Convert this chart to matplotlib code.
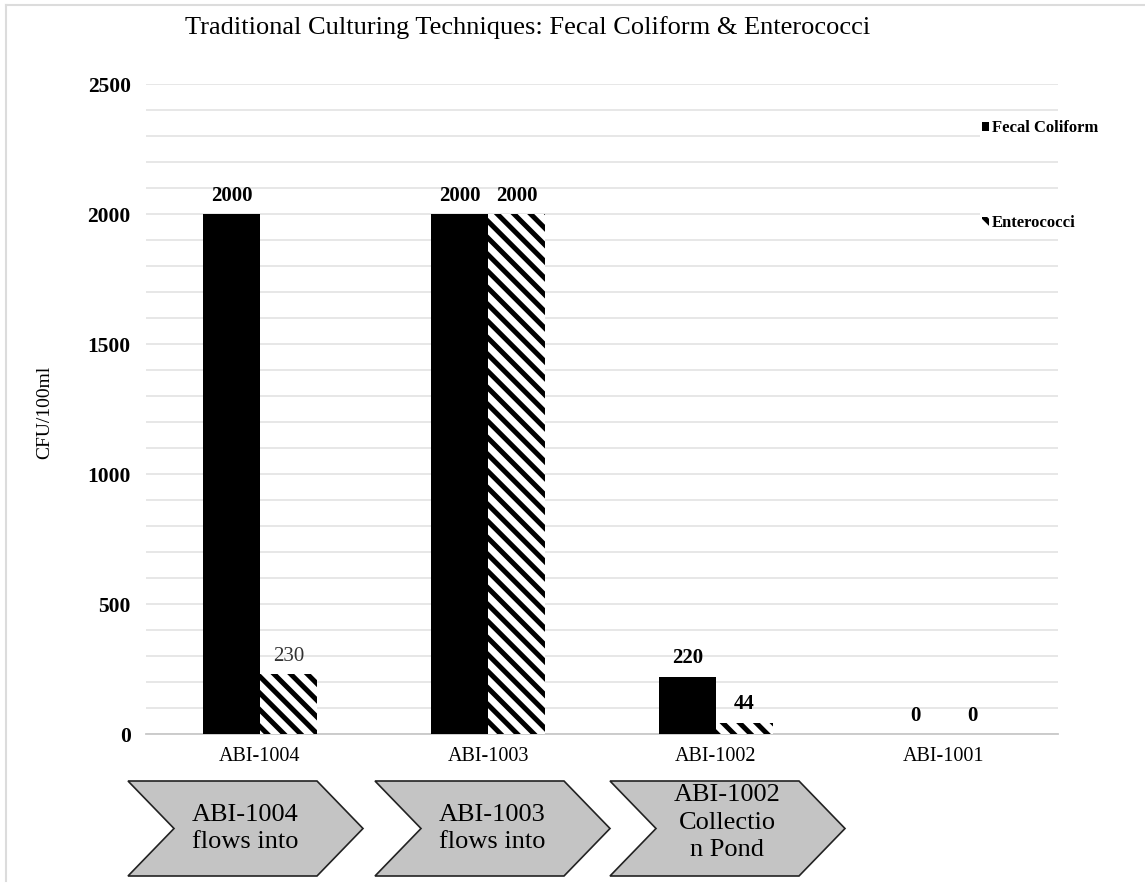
import matplotlib
matplotlib.use('Agg')
import matplotlib.pyplot as plt
from matplotlib.patches import Patch, Polygon
from matplotlib.lines import Line2D
import numpy as np

plt.rcParams['font.family'] = ['Liberation Serif', 'DejaVu Serif']
plt.rcParams['hatch.linewidth'] = 3.6

# Sample sites and culture counts (CFU/100ml)
sites = ['ABI-1004', 'ABI-1003', 'ABI-1002', 'ABI-1001']
fecal_coliform = [2000, 2000, 220, 0]
enterococci = [230, 2000, 44, 0]
flow_labels = ['ABI-1004\nflows into', 'ABI-1003\nflows into', 'ABI-1002\nCollectio\nn Pond']

W, H = 1145, 888
fig = plt.figure(figsize=(W / 100, H / 100), dpi=100)
ax = fig.add_axes([146 / W, 1 - 734 / H, (1058 - 146) / W, (734 - 84) / H])

x = np.arange(len(sites))
bw = 0.25
b1 = ax.bar(x - bw / 2, fecal_coliform, bw, color='black', linewidth=0, zorder=3)
b2 = ax.bar(x + bw / 2, enterococci, bw, color='white', edgecolor='black',
            hatch='\\\\', linewidth=0, zorder=3)

ax.bar_label(b1, padding=6, fontsize=15, fontweight='bold')
lbls = ax.bar_label(b2, padding=6, fontsize=15, fontweight='bold')
# the 230 label is drawn lighter
lbls[0].set_fontweight('normal')
lbls[0].set_color('#333333')

ax.set_xlim(-0.5, 3.5)
ax.set_ylim(0, 2500)
ax.set_yticks(np.arange(0, 2501, 500))
ax.set_yticks(np.arange(0, 2501, 100), minor=True)
ax.grid(axis='y', which='both', color='#e3e3e3', linewidth=1.2, zorder=0)
ax.tick_params(axis='y', which='both', length=0, pad=11, labelsize=15.5)
for t in ax.get_yticklabels():
    t.set_fontweight('bold')
ax.set_xticks(x)
ax.set_xticklabels(sites, fontsize=14.5)
ax.tick_params(axis='x', length=0, pad=9)
for s in ['top', 'right', 'left']:
    ax.spines[s].set_visible(False)
ax.spines['bottom'].set_color('#c8c8c8')
ax.spines['bottom'].set_linewidth(1.3)

fig.text(45 / W, 1 - 412 / H, 'CFU/100ml', rotation=90, ha='center', va='center', fontsize=14)

fig.text(528 / W, 1 - 28 / H, 'Traditional Culturing Techniques: Fecal Coliform & Enterococci',
         ha='center', va='center', fontsize=19)

# two separate legend entries, each on its own white patch
entries = [(Patch(facecolor='black', linewidth=0), 'Fecal Coliform', 128),
           (Patch(facecolor='white', edgecolor='black', hatch='\\\\', linewidth=0), 'Enterococci', 223)]
for handle, name, yc in entries:
    leg = fig.legend([handle], [name], loc='center left', bbox_to_anchor=(980 / W, 1 - yc / H),
                     frameon=True, facecolor='white', edgecolor='none', framealpha=1,
                     fancybox=False, borderpad=0.1, borderaxespad=0,
                     prop={'size': 12, 'weight': 'bold'}, handlelength=0.45,
                     handleheight=0.45, handletextpad=0.15)

# Flow chevrons under the site labels
lefts = [128, 375, 610]
cw, depth = 235, 46
top, bot = 781, 876
mid = (top + bot) / 2
for left, lab in zip(lefts, flow_labels):
    pts = [(left, top), (left + cw - depth, top), (left + cw, mid),
           (left + cw - depth, bot), (left, bot), (left + depth, mid)]
    pts = [(px / W, 1 - py / H) for px, py in pts]
    fig.patches.append(Polygon(pts, closed=True, facecolor='#c4c4c4', edgecolor='#222222',
                               linewidth=1.2, transform=fig.transFigure))
    yc = mid - 6 if lab.count('\n') > 1 else mid
    fig.text((left + cw / 2) / W, 1 - yc / H, lab, ha='center', va='center',
             fontsize=19, linespacing=1.35)

# light frame lines along the top and left edges
fig.lines.append(Line2D([6 / W, 1], [1 - 5 / H, 1 - 5 / H], color='#dcdcdc', linewidth=1.5,
                        transform=fig.transFigure))
fig.lines.append(Line2D([6 / W, 6 / W], [1 - 5 / H, 1 - 881 / H], color='#dcdcdc',
                        linewidth=1.5, transform=fig.transFigure))

fig.savefig('out.png', dpi=100)
